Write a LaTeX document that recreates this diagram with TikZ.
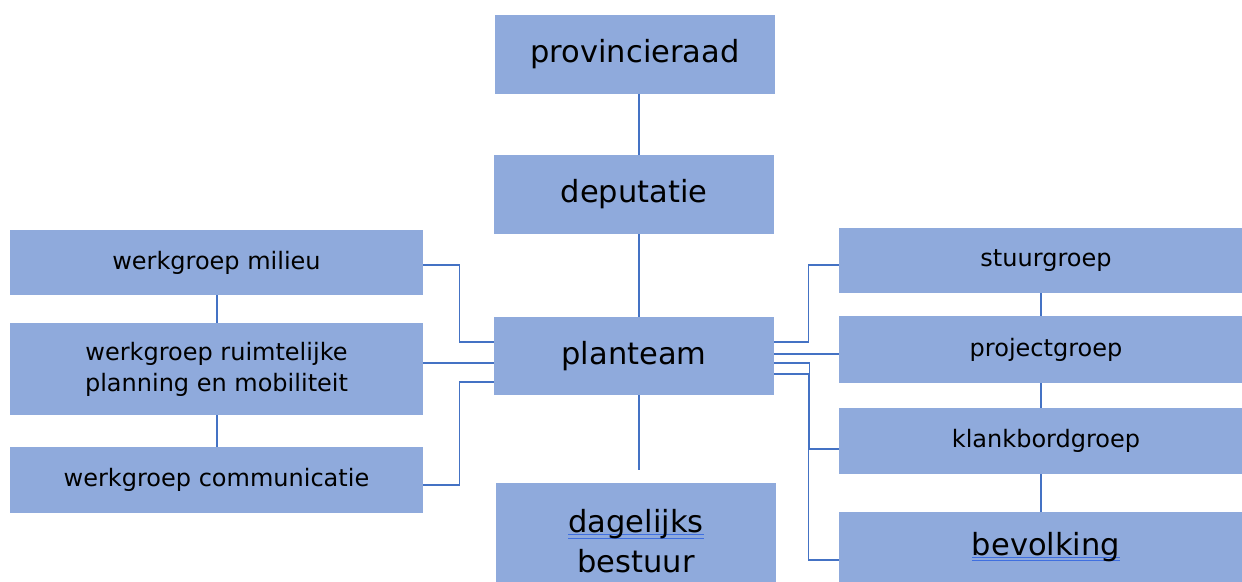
\documentclass[tikz,border=0pt]{standalone}
\usepackage{fontspec}
\setmainfont{DejaVu Sans}
\usetikzlibrary{calc}
\definecolor{boxfill}{HTML}{8FAADC}
\definecolor{linec}{HTML}{4472C4}
\definecolor{spellc}{HTML}{3F6FE0}
\newcommand\spellmark[1]{\setbox0\hbox{#1}\rlap{\color{spellc}\rule[-2.5pt]{\wd0}{1pt}}\rlap{\color{spellc}\rule[-6pt]{\wd0}{1pt}}#1}
\begin{document}
\begin{tikzpicture}[x=1pt,y=-1pt,
  box/.style={fill=boxfill, inner sep=0pt, align=center, text=black},
  big/.style={font=\fontsize{30.5}{40}\selectfont},
  small/.style={font=\fontsize{24}{31}\selectfont},
  conn/.style={draw=linec, line width=1.3pt}]
\useasboundingbox (0,0) rectangle (1242,581);
\clip (0,0) rectangle (1242,581);
% central column
\node[box,big,minimum width=280pt,minimum height=79pt] (prov) at (635,54) {provincieraad};
\node[box,big,minimum width=280pt,minimum height=79pt] (dep) at (634,194.5) {deputatie};
\node[box,big,minimum width=280pt,minimum height=78pt] (plan) at (634,356) {planteam};
\node[box,big,minimum width=280pt,minimum height=117pt] (dag) at (636,541.5) {\spellmark{dagelijks}\\bestuur};
% left column
\node[box,small,minimum width=413pt,minimum height=65pt] (mil) at (216.5,262.5) {werkgroep milieu};
\node[box,small,minimum width=413pt,minimum height=92pt] (ruim) at (216.5,369) {werkgroep ruimtelijke\\planning en mobiliteit};
\node[box,small,minimum width=413pt,minimum height=66pt] (com) at (216.5,480) {werkgroep communicatie};
% right column
\node[box,small,minimum width=414pt,minimum height=65pt] (stuur) at (1046,260.5) {stuurgroep};
\node[box,small,minimum width=414pt,minimum height=67pt] (proj) at (1046,349.5) {projectgroep};
\node[box,small,minimum width=414pt,minimum height=66pt] (klank) at (1046,441) {klankbordgroep};
\node[box,big,minimum width=414pt,minimum height=70pt] (bev) at (1046,547) {\spellmark{bevolking}};
% helper coordinates
\coordinate (cx) at (639,0);
\coordinate (rc) at (1041,0);
\coordinate (lc) at (217,0);
\coordinate (pend) at (639,470);
% vertical connectors
\draw[conn] (prov.south -| cx) -- (dep.north -| cx);
\draw[conn] (dep.south -| cx) -- (plan.north -| cx);
\draw[conn] (plan.south -| cx) -- (pend);
\draw[conn] (mil.south -| lc) -- (ruim.north -| lc);
\draw[conn] (ruim.south -| lc) -- (com.north -| lc);
\draw[conn] (stuur.south -| rc) -- (proj.north -| rc);
\draw[conn] (proj.south -| rc) -- (klank.north -| rc);
\draw[conn] (klank.south -| rc) -- (bev.north -| rc);
% left connectors
\draw[conn] ([yshift=-2.5pt]mil.east) -- ++(36,0) |- ([yshift=14pt]plan.west);
\draw[conn] ([yshift=-7pt]plan.west) -- ([yshift=-7pt]plan.west -| ruim.east);
\draw[conn] ([yshift=-5pt]com.east) -- ++(36,0) |- ([yshift=-26pt]plan.west);
% right connectors
\draw[conn] ([yshift=14pt]plan.east) -- ++(34,0) |- ([yshift=-4.5pt]stuur.west);
\draw[conn] ([yshift=2pt]plan.east) -- ([yshift=2pt]plan.east -| proj.west);
\draw[conn] ([yshift=-7pt]plan.east) -- ++(35,0) |- ([yshift=-8pt]klank.west);
\draw[conn] ([yshift=-18pt]plan.east) -- ++(34,0) |- ([yshift=-13pt]bev.west);
\end{tikzpicture}
\end{document}
